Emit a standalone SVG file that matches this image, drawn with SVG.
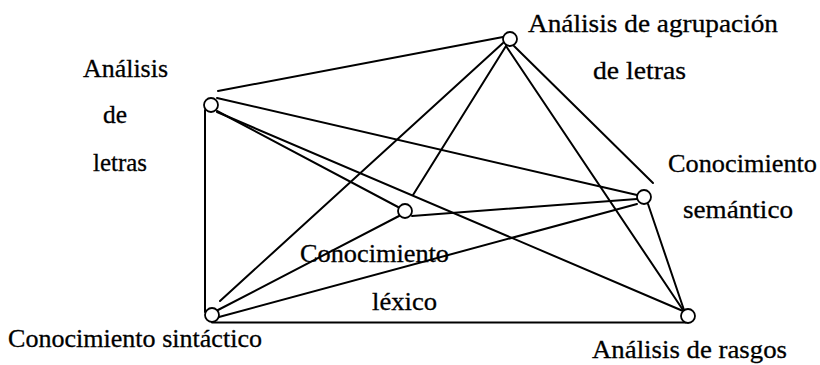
<svg xmlns="http://www.w3.org/2000/svg" width="820" height="365" viewBox="0 0 820 365">
<style>
  .edge { stroke: #000; stroke-width: 2; fill: none; stroke-linecap: round; }
  .node { fill: #fff; stroke: #000; stroke-width: 1.8; }
  .lbl { font-family: "Liberation Serif", "Times New Roman", serif; font-size: 26px; fill: #000; stroke: #000; stroke-width: 0.3; }
</style>
<rect width="820" height="365" fill="#fff"/>
<g id="connectors">
  <line class="edge" x1="218" y1="91" x2="503" y2="37"/>
  <line class="edge" x1="205" y1="110" x2="205" y2="312"/>
  <line class="edge" x1="212" y1="322.5" x2="686" y2="322.5"/>
  <line class="edge" x1="217" y1="98" x2="637" y2="195"/>
  <line class="edge" x1="217" y1="111" x2="398" y2="207"/>
  <line class="edge" x1="217" y1="112" x2="683" y2="311"/>
  <line class="edge" x1="503" y1="43" x2="220" y2="301"/>
  <line class="edge" x1="506" y1="46" x2="413" y2="195"/>
  <line class="edge" x1="506" y1="46" x2="683" y2="310"/>
  <line class="edge" x1="514" y1="46" x2="653" y2="183"/>
  <line class="edge" x1="412" y1="216" x2="637" y2="199"/>
  <line class="edge" x1="219" y1="317" x2="637" y2="204"/>
  <line class="edge" x1="218" y1="310" x2="399" y2="216"/>
  <line class="edge" x1="648" y1="204" x2="684" y2="310"/>
</g>
<g id="analisis-letras">
  <circle class="node" cx="211" cy="105" r="7"/>
  <text class="lbl" x="83" y="77" textLength="85" lengthAdjust="spacingAndGlyphs">Análisis</text>
  <text class="lbl" x="103" y="123" textLength="24" lengthAdjust="spacingAndGlyphs">de</text>
  <text class="lbl" x="93" y="171" textLength="54" lengthAdjust="spacingAndGlyphs">letras</text>
</g>
<g id="analisis-agrupacion">
  <circle class="node" cx="510" cy="39" r="7"/>
  <text class="lbl" x="528" y="32" textLength="250" lengthAdjust="spacingAndGlyphs">Análisis de agrupación</text>
  <text class="lbl" x="593" y="79" textLength="93" lengthAdjust="spacingAndGlyphs">de letras</text>
</g>
<g id="conocimiento-lexico">
  <circle class="node" cx="405" cy="211" r="7"/>
  <text class="lbl" x="300" y="262" textLength="149" lengthAdjust="spacingAndGlyphs">Conocimiento</text>
  <text class="lbl" x="372" y="310" textLength="65" lengthAdjust="spacingAndGlyphs">léxico</text>
</g>
<g id="conocimiento-semantico">
  <circle class="node" cx="644" cy="197" r="7"/>
  <text class="lbl" x="668" y="172" textLength="149" lengthAdjust="spacingAndGlyphs">Conocimiento</text>
  <text class="lbl" x="683" y="218" textLength="110" lengthAdjust="spacingAndGlyphs">semántico</text>
</g>
<g id="conocimiento-sintactico">
  <circle class="node" cx="212" cy="315" r="7"/>
  <text class="lbl" x="8" y="347" textLength="254" lengthAdjust="spacingAndGlyphs">Conocimiento sintáctico</text>
</g>
<g id="analisis-rasgos">
  <circle class="node" cx="688" cy="316" r="7"/>
  <text class="lbl" x="592" y="358" textLength="195" lengthAdjust="spacingAndGlyphs">Análisis de rasgos</text>
</g>
</svg>
